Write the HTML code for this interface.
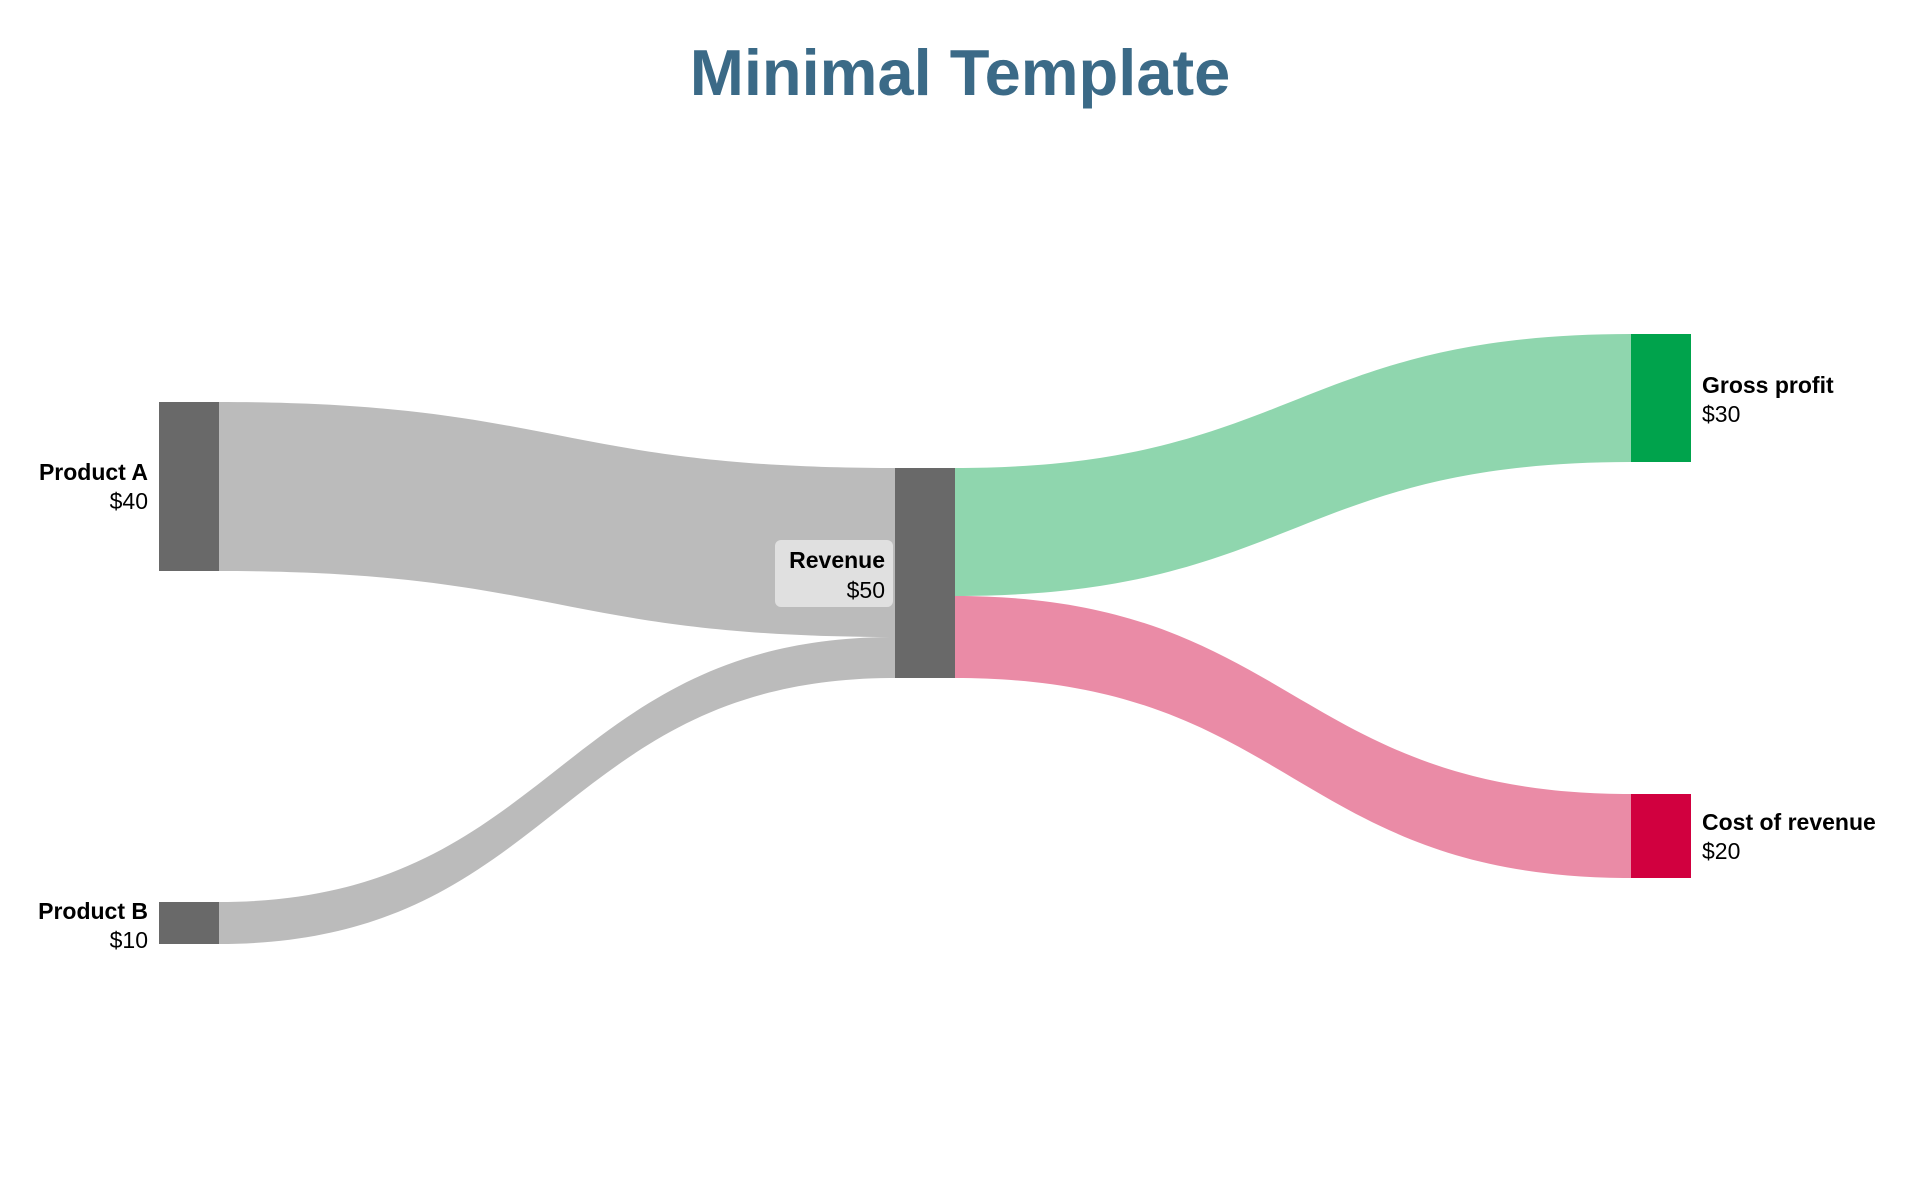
<!DOCTYPE html>
<html><head><meta charset="utf-8"><style>
html,body{margin:0;padding:0;background:#fff;}
svg{display:block;font-family:"Liberation Sans",sans-serif;}
</style></head><body>
<svg width="1920" height="1200" viewBox="0 0 1920 1200">
<rect width="1920" height="1200" fill="#fff"/>
<text x="960" y="95" text-anchor="middle" font-size="65" font-weight="bold" fill="#3b6a87">Minimal Template</text>
<path d="M219,402 C557,402 557,468 895,468 L895,637 C557,637 557,571 219,571 Z" fill="#bbbbbb"/>
<path d="M219,902 C557,902 557,637 895,637 L895,678 C557,678 557,944 219,944 Z" fill="#bbbbbb"/>
<path d="M955,468 C1293,468 1293,334 1631,334 L1631,462 C1293,462 1293,596 955,596 Z" fill="#8fd6ae"/>
<path d="M955,596 C1293,596 1293,794 1631,794 L1631,878 C1293,878 1293,678 955,678 Z" fill="#ea8ba6"/>
<rect x="159" y="402" width="60" height="169" fill="#696969"/>
<rect x="159" y="902" width="60" height="42" fill="#696969"/>
<rect x="895" y="468" width="60" height="210" fill="#696969"/>
<rect x="1631" y="334" width="60" height="128" fill="#00a34c"/>
<rect x="1631" y="794" width="60" height="84" fill="#d1003f"/>
<g font-size="23">
<text x="148" y="480" text-anchor="end" font-weight="bold">Product A</text>
<text x="148" y="509" text-anchor="end">$40</text>
<text x="148" y="919" text-anchor="end" font-weight="bold">Product B</text>
<text x="148" y="948" text-anchor="end">$10</text>
<rect x="775" y="540" width="118" height="67" rx="6" fill="#e0e0e0"/>
<text x="885" y="568" text-anchor="end" font-weight="bold">Revenue</text>
<text x="885" y="598" text-anchor="end">$50</text>
<text x="1702" y="393" font-weight="bold">Gross profit</text>
<text x="1702" y="422">$30</text>
<text x="1702" y="830" font-weight="bold">Cost of revenue</text>
<text x="1702" y="859">$20</text>
</g>
</svg>
</body></html>
